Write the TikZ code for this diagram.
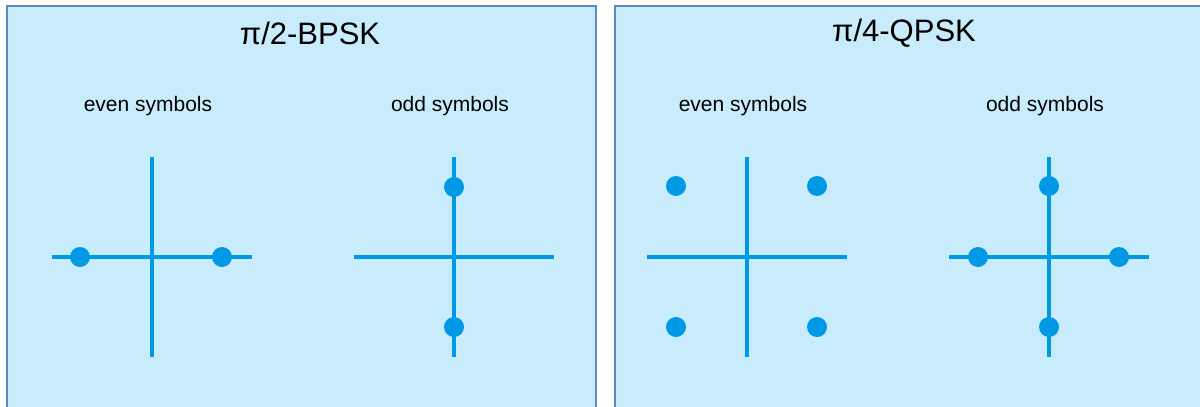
\documentclass[tikz,border=0pt]{standalone}
\usepackage{fontspec}
\setmainfont{Liberation Sans}
\usetikzlibrary{positioning}

\definecolor{panelfill}{HTML}{C9ECFD}
\definecolor{panelline}{HTML}{5A8BC1}
\definecolor{axisblue}{HTML}{0099E6}

\begin{document}
\begin{tikzpicture}[
    x=1pt, y=-1pt,
    panel/.style={
        draw=panelline,
        fill=panelfill,
        line width=2pt
    },
    axis/.style={
        draw=axisblue,
        line width=4.5pt
    },
    dot/.style={
        circle,
        fill=axisblue,
        inner sep=0pt,
        minimum size=20pt
    },
    paneltitle/.style={
        font=\fontsize{31}{35}\selectfont
    },
    symtext/.style={
        font=\fontsize{21}{25}\selectfont
    }
]

\useasboundingbox (0,0) rectangle (1200,407);

\draw[panel] (7,6) rectangle (596,430);
\draw[panel] (615,6) rectangle (1215,430);

\node[paneltitle] (bpsk) at (310,33) {π/2-BPSK};
\node[paneltitle] (qpsk) at (904,33) {π/4-QPSK};

\node[symtext] (bpskeven) at (148,106) {even symbols};
\node[symtext] (bpskodd) at (450,106) {odd symbols};
\node[symtext] (qpskeven) at (743,106) {even symbols};
\node[symtext] (qpskodd) at (1045,106) {odd symbols};

% axes of the four constellations
\foreach \c/\cx in {a/152, b/454, c/747, d/1049} {
    \coordinate (\c W) at (\cx-100,257);
    \coordinate (\c E) at (\cx+100,257);
    \coordinate (\c N) at (\cx,157);
    \coordinate (\c S) at (\cx,357);
    \draw[axis] (\c W) -- (\c E);
    \draw[axis] (\c N) -- (\c S);
}

% pi/2-BPSK
\node[dot] (a1) at (80,257) {};
\node[dot] (a2) at (222,257) {};
\node[dot] (b1) at (454,187) {};
\node[dot] (b2) at (454,327) {};

% pi/4-QPSK
\node[dot] (c1) at (676,186) {};
\node[dot] (c2) at (817,186) {};
\node[dot] (c3) at (676,327) {};
\node[dot] (c4) at (817,327) {};
\node[dot] (d1) at (978,257) {};
\node[dot] (d2) at (1119,257) {};
\node[dot] (d3) at (1049,186) {};
\node[dot] (d4) at (1049,327) {};

\end{tikzpicture}
\end{document}
